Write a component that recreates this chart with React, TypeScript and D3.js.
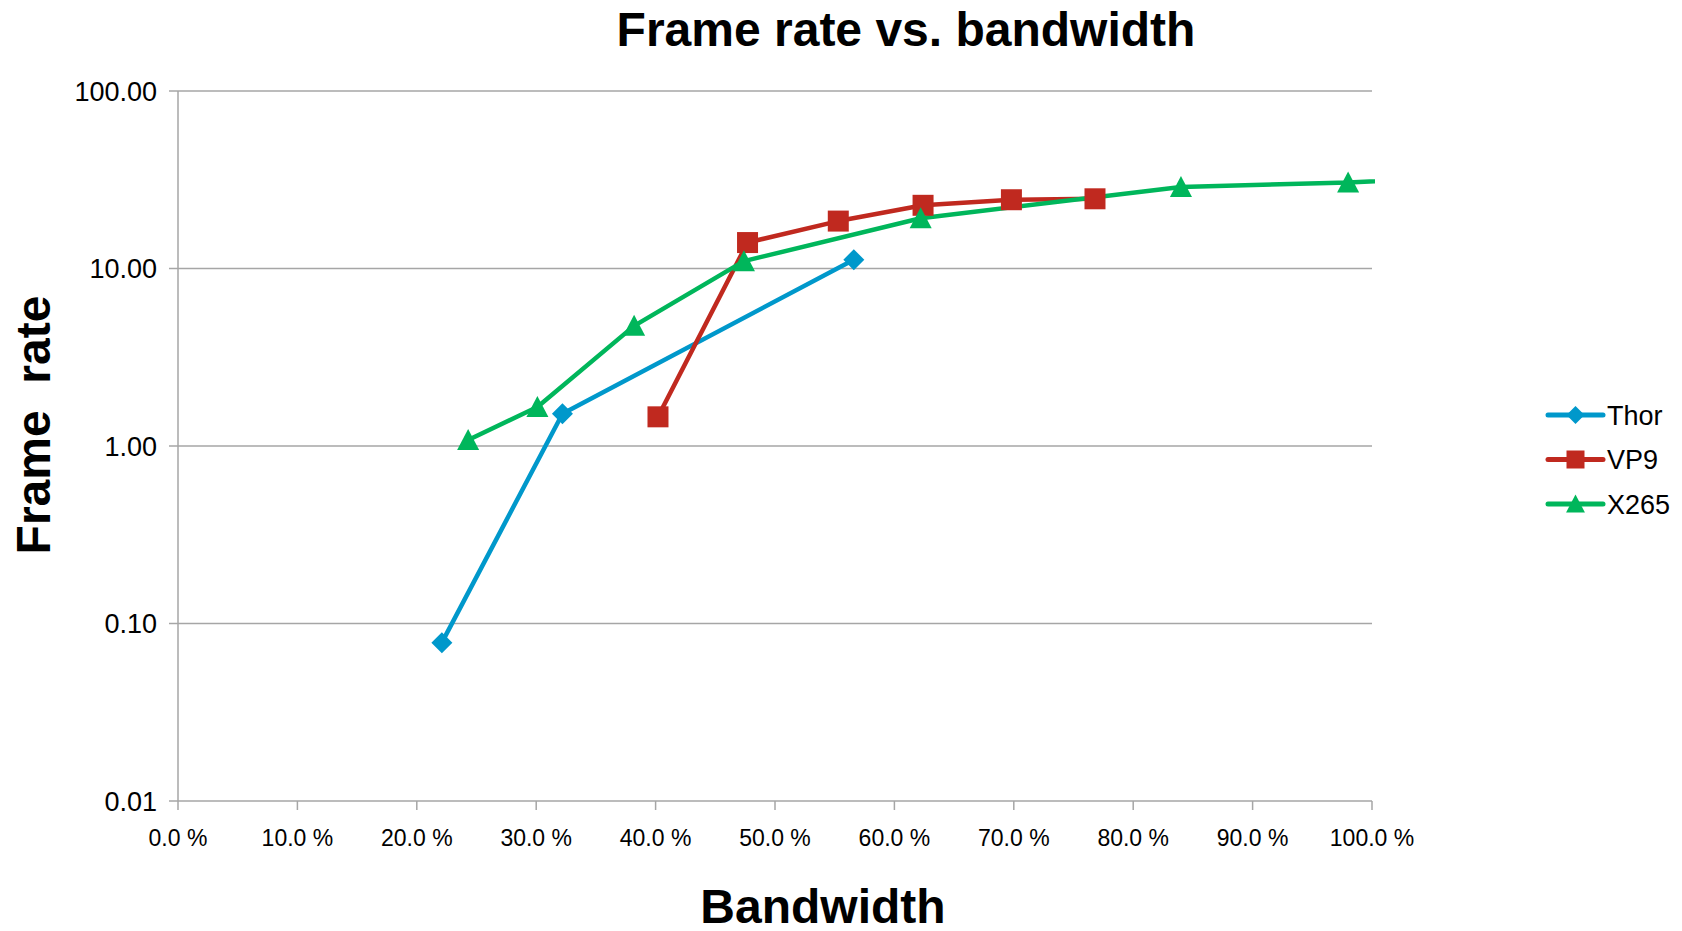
import React from "react";
import * as d3 from "d3";

// bandwidth (%) and frame rate per codec
const thorX = [22.1, 32.2, 56.6];
const thorY = [0.078, 1.52, 11.2];
const vp9X = [40.2, 47.7, 55.3, 62.4, 69.8, 76.8];
const vp9Y = [1.46, 14.0, 18.5, 22.7, 24.4, 24.7];
// last point lies past 100 % and gets clipped by the plot area
const x265X = [24.3, 30.1, 38.2, 47.4, 62.2, 84.0, 98.0, 110.0];
const x265Y = [1.08, 1.66, 4.75, 11.0, 19.2, 28.8, 30.5, 33.5];

const xTicks = [0, 10, 20, 30, 40, 50, 60, 70, 80, 90, 100];
const yTicks = [0.01, 0.1, 1, 10, 100];

const seriesNames = ["Thor", "VP9", "X265"];
const seriesColors = ["#0098cb", "#c0291f", "#00b65b"];
const seriesMarkers = ["diamond", "square", "triangle"];

const W = 1682;
const H = 931;
const PLOT = { left: 178, right: 1372, top: 91, bottom: 801 };
const FONT = "'Liberation Sans', Arial, sans-serif";

type Pt = { x: number; y: number };

const markerPath = (kind: string, s: number) => {
    if (kind === "diamond") return `M0,${-s}L${s},0L0,${s}L${-s},0Z`;
    if (kind === "square") return `M${-s},${-s}H${s}V${s}H${-s}Z`;
    return `M0,${-s * 1.05}L${s * 1.05},${s * 0.95}L${-s * 1.05},${s * 0.95}Z`;
};

const App: React.FC = () => {
    const x = d3.scaleLinear().domain([0, 100]).range([PLOT.left, PLOT.right]);
    const y = d3.scaleLog().domain([0.01, 100]).range([PLOT.bottom, PLOT.top]);

    const series: Pt[][] = [
        thorX.map((v, i) => ({ x: v, y: thorY[i] })),
        vp9X.map((v, i) => ({ x: v, y: vp9Y[i] })),
        x265X.map((v, i) => ({ x: v, y: x265Y[i] })),
    ];

    const line = d3.line<Pt>().x((d) => x(d.x)).y((d) => y(d.y));

    return (
        <svg width={W} height={H} style={{ position: "absolute", left: 0, top: 0, background: "#fff" }}
            fontFamily={FONT}>
            <defs>
                <clipPath id="plot-clip">
                    <rect x={PLOT.left - 15} y={PLOT.top - 15} width={PLOT.right - PLOT.left + 18}
                        height={PLOT.bottom - PLOT.top + 30} />
                </clipPath>
            </defs>

            {/* title */}
            <text x={906} y={46} textAnchor="middle" fontSize={48} fontWeight="bold">
                Frame rate vs. bandwidth
            </text>

            {/* grid + y axis */}
            {yTicks.map((t) => (
                <g key={t}>
                    <line x1={PLOT.left - 9} x2={PLOT.right} y1={y(t)} y2={y(t)}
                        stroke="#a6a6a6" strokeWidth={1.5} />
                    <text x={157} y={y(t) + 9.5} textAnchor="end" fontSize={27} fill="#000">
                        {d3.format(".2f")(t)}
                    </text>
                </g>
            ))}
            <line x1={PLOT.left} x2={PLOT.left} y1={PLOT.top} y2={PLOT.bottom}
                stroke="#a6a6a6" strokeWidth={1.5} />

            {/* x axis */}
            {xTicks.map((t) => (
                <g key={t}>
                    <line x1={x(t)} x2={x(t)} y1={PLOT.bottom} y2={PLOT.bottom + 9}
                        stroke="#a6a6a6" strokeWidth={1.5} />
                    <text x={x(t)} y={846} textAnchor="middle" fontSize={23}>
                        {`${t.toFixed(1)} %`}
                    </text>
                </g>
            ))}

            {/* axis titles */}
            <text x={823} y={923} textAnchor="middle" fontSize={48} fontWeight="bold">Bandwidth</text>
            <text transform="translate(50,425) rotate(-90)" textAnchor="middle" fontSize={48}
                fontWeight="bold" style={{ whiteSpace: "pre" }}>
                {"Frame  rate"}
            </text>

            {/* series */}
            <g clipPath="url(#plot-clip)">
                {series.map((pts, i) => (
                    <path key={seriesNames[i]} d={line(pts) ?? ""} fill="none"
                        stroke={seriesColors[i]} strokeWidth={4.5} strokeLinejoin="round" />
                ))}
                {series.map((pts, i) =>
                    pts.filter((p) => p.x <= 100).map((p, j) => (
                        <path key={`${i}-${j}`} transform={`translate(${x(p.x)},${y(p.y)})`}
                            d={markerPath(seriesMarkers[i], 10.5)} fill={seriesColors[i]} />
                    ))
                )}
            </g>

            {/* legend */}
            {seriesNames.map((name, i) => {
                const ly = 415 + i * 44.5;
                return (
                    <g key={name}>
                        <line x1={1548} x2={1603} y1={ly} y2={ly} stroke={seriesColors[i]}
                            strokeWidth={5} strokeLinecap="round" />
                        <path transform={`translate(1575.5,${ly})`} d={markerPath(seriesMarkers[i], 9)}
                            fill={seriesColors[i]} />
                        <text x={1607} y={ly + 9.5} fontSize={27}>{name}</text>
                    </g>
                );
            })}
        </svg>
    );
};

export default App;
